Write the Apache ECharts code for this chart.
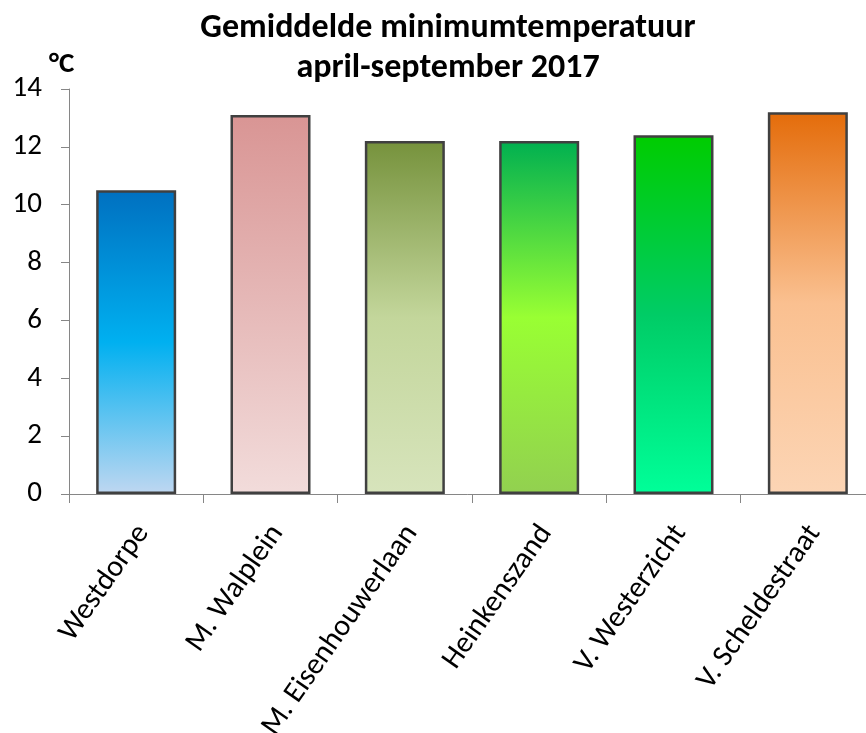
<!DOCTYPE html>
<html>
<head>
<meta charset="utf-8">
<style>
  html, body { margin: 0; padding: 0; background: #ffffff; }
  #chart { width: 866px; height: 733px; }
</style>
<script src="https://cdn.jsdelivr.net/npm/echarts@6/dist/echarts.min.js"></script>
</head>
<body>
<div id="chart"></div>
<script>
// Stations and their mean minimum temperature (°C), April–September 2017
const stations = ['Westdorpe', 'M. Walplein', 'M. Eisenhouwerlaan', 'Heinkenszand', 'V. Westerzicht', 'V. Scheldestraat'];
const minTemps = [10.5, 13.1, 12.2, 12.2, 12.4, 13.2];

// Per-bar vertical gradient stops, top to bottom
const barGradients = [
  [[0, '#0070C0'], [0.5, '#00B0F0'], [1, '#BFD7F1']],
  [[0, '#D99594'], [1, '#F2DCDB']],
  [[0, '#76923C'], [0.5, '#C3D69B'], [1, '#D7E4BC']],
  [[0, '#00B050'], [0.5, '#99FF33'], [1, '#92D050']],
  [[0, '#00CC00'], [0.5, '#00CC66'], [1, '#00FF99']],
  [[0, '#E46C0A'], [0.5, '#FAC090'], [1, '#FCD5B5']]
];

const FONT = 'Carlito, "Liberation Sans", Arial, sans-serif';

const chart = echarts.init(document.getElementById('chart'), null, { renderer: 'canvas' });

chart.setOption({
  backgroundColor: '#ffffff',
  animation: false,
  title: [
    {
      text: 'Gemiddelde minimumtemperatuur\napril-september 2017',
      left: 443,
      top: 3,
      textAlign: 'center',
      textStyle: { fontFamily: FONT, fontSize: 34, fontWeight: 'bold', color: '#000000', lineHeight: 40 }
    },
    {
      text: '°C',
      left: 44,
      top: 45,
      textStyle: { fontFamily: FONT, fontSize: 29, fontWeight: 'bold', color: '#000000' }
    }
  ],
  grid: {
    left: 69, right: -9, top: 89, bottom: 239,
    containLabel: false,
    outerBoundsMode: 'none'
  },
  xAxis: {
    type: 'category',
    data: stations,
    boundaryGap: true,
    axisLine: { lineStyle: { color: '#868686', width: 1 } },
    axisTick: { show: true, length: 9, lineStyle: { color: '#868686' } },
    axisLabel: {
      interval: 0,
      rotate: 55,
      margin: 44,
      padding: [0, -12, 0, 0],
      fontFamily: FONT,
      fontSize: 30,
      color: '#000000'
    },
    splitLine: { show: false }
  },
  yAxis: {
    type: 'value',
    min: 0,
    max: 14,
    interval: 2,
    axisLine: { show: true, lineStyle: { color: '#868686', width: 1 } },
    axisTick: { show: true, length: 8, lineStyle: { color: '#868686' } },
    axisLabel: { fontFamily: FONT, fontSize: 29, color: '#000000', margin: 27 },
    splitLine: { show: false }
  },
  series: [{
    type: 'bar',
    barWidth: 80,
    data: minTemps.map((v, i) => ({
      value: v,
      itemStyle: {
        color: new echarts.graphic.LinearGradient(0, 0, 0, 1,
          barGradients[i].map(s => ({ offset: s[0], color: s[1] }))),
        borderColor: '#404040',
        borderWidth: 2.5
      }
    }))
  }]
});
</script>
</body>
</html>
